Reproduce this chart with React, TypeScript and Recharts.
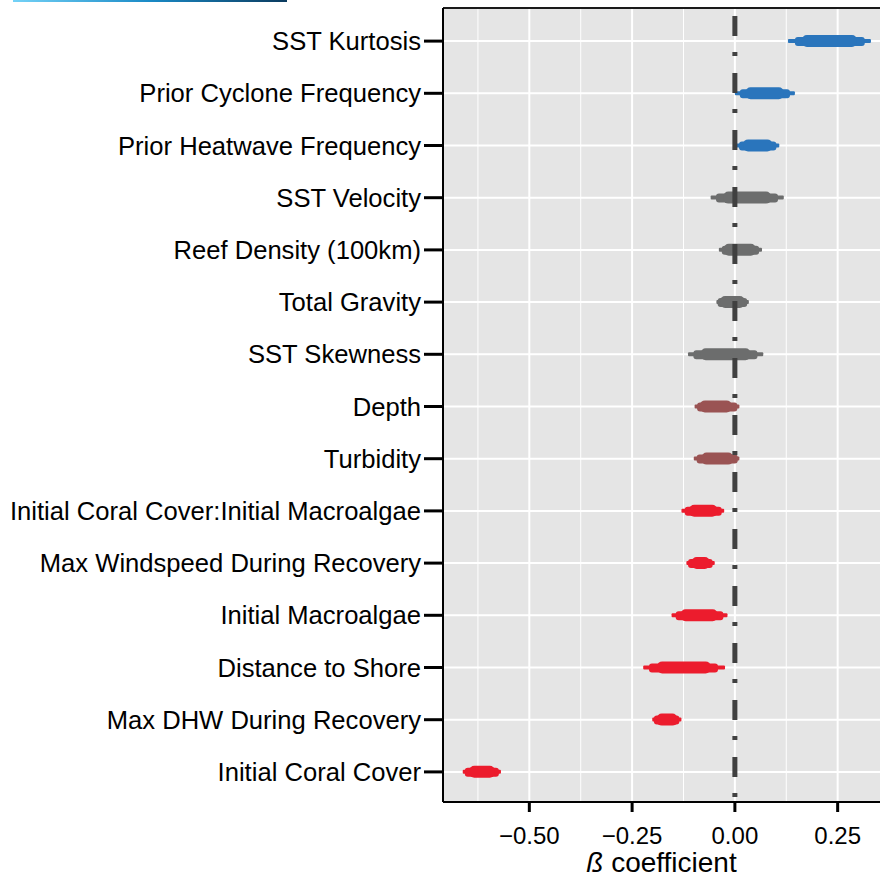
import { ComposedChart, Bar, Cell, XAxis, YAxis, CartesianGrid, ReferenceLine, Label } from 'recharts';

const categories = [
  'SST Kurtosis',
  'Prior Cyclone Frequency',
  'Prior Heatwave Frequency',
  'SST Velocity',
  'Reef Density (100km)',
  'Total Gravity',
  'SST Skewness',
  'Depth',
  'Turbidity',
  'Initial Coral Cover:Initial Macroalgae',
  'Max Windspeed During Recovery',
  'Initial Macroalgae',
  'Distance to Shore',
  'Max DHW During Recovery',
  'Initial Coral Cover',
];

// outer (thin) interval
const thinLow = [0.129, 0.0, 0.004, -0.059, -0.039, -0.045, -0.114, -0.098, -0.1, -0.13, -0.118, -0.154, -0.223, -0.201, -0.662];
const thinHigh = [0.331, 0.146, 0.108, 0.119, 0.066, 0.034, 0.069, 0.011, 0.011, -0.026, -0.049, -0.018, -0.024, -0.13, -0.569];
// middle interval
const midLow = [0.146, 0.012, 0.01, -0.046, -0.032, -0.042, -0.101, -0.092, -0.093, -0.122, -0.114, -0.144, -0.209, -0.197, -0.657];
const midHigh = [0.316, 0.134, 0.101, 0.105, 0.059, 0.03, 0.055, 0.006, 0.007, -0.032, -0.054, -0.028, -0.041, -0.135, -0.574];
// inner (thick) interval
const thickLow = [0.163, 0.026, 0.02, -0.028, -0.027, -0.036, -0.083, -0.085, -0.081, -0.111, -0.105, -0.132, -0.189, -0.19, -0.646];
const thickHigh = [0.297, 0.119, 0.091, 0.088, 0.051, 0.024, 0.038, -0.008, -0.004, -0.043, -0.061, -0.042, -0.059, -0.14, -0.584];

const groups = ['pos', 'pos', 'pos', 'ns', 'ns', 'ns', 'ns', 'weak', 'weak', 'neg', 'neg', 'neg', 'neg', 'neg', 'neg'];
const groupColors: Record<string, string> = { pos: '#2a75bc', ns: '#6c6d6d', weak: '#9a5353', neg: '#ec1c2d' };

const majorTicks = [-0.5, -0.25, 0, 0.25];
const minorTicks = [-0.625, -0.375, -0.125, 0.125];

const data = categories.map((name, i) => ({
  name,
  thin: [thinLow[i], thinHigh[i]],
  mid: [midLow[i], midHigh[i]],
  thick: [thickLow[i], thickHigh[i]],
  color: groupColors[groups[i]],
}));

const fmt = (v: number) => (v < 0 ? '\u2212' + Math.abs(v).toFixed(2) : v.toFixed(2));

const renderTitle = (props: any) => {
  const { x, y, width } = props.viewBox;
  return (
    <text x={x + width / 2} y={y + 70} textAnchor="middle" fontSize={28} fill="#000">
      <tspan fontStyle="italic">ß</tspan> coefficient
    </text>
  );
};

const yPad = { top: 7, bottom: 4 };

export default function App() {
  return (
    <div style={{ position: 'absolute', left: 0, top: 0, width: 880, height: 877, background: '#fff', fontFamily: '"Liberation Sans", Arial, sans-serif' }}>
      <div style={{ position: 'absolute', left: 13, top: 0, width: 274, height: 2, background: 'linear-gradient(to right, #74d2f7, #1a8ac6, #0b3a5e)' }} />
      <ComposedChart width={880} height={877} data={data} layout="vertical"
        margin={{ top: 8, right: 0, bottom: 0, left: 0 }}>
        <CartesianGrid fill="#e5e5e5" stroke="#fff" strokeWidth={1} horizontal={false}
          verticalValues={minorTicks} xAxisId="x" yAxisId="thin" />
        <CartesianGrid stroke="#fff" strokeWidth={2} verticalValues={majorTicks} xAxisId="x" yAxisId="thin" />
        <XAxis xAxisId="x" type="number" domain={[-0.71, 0.353]} ticks={majorTicks} tickFormatter={fmt}
          allowDataOverflow height={75} tickSize={10} tickMargin={15}
          tick={{ fill: '#000', fontSize: 24 }}
          axisLine={{ stroke: '#000', strokeWidth: 2 }} tickLine={{ stroke: '#000', strokeWidth: 3 }}>
          <Label content={renderTitle} />
        </XAxis>
        <YAxis yAxisId="thin" type="category" dataKey="name" width={443} padding={yPad}
          tickSize={19} tickMargin={3} tick={{ fill: '#000', fontSize: 25.6 }}
          axisLine={{ stroke: '#000', strokeWidth: 2 }} tickLine={{ stroke: '#000', strokeWidth: 3 }} />
        <YAxis yAxisId="mid" type="category" dataKey="name" hide width={0} padding={yPad} />
        <YAxis yAxisId="thick" type="category" dataKey="name" hide width={0} padding={yPad} />
        <YAxis yAxisId="ref" type="number" domain={[0, 1]} allowDataOverflow hide width={0} />
        <Bar xAxisId="x" yAxisId="thin" dataKey="thin" barSize={4} radius={1} isAnimationActive={false}>
          {data.map((d) => <Cell key={d.name} fill={d.color} />)}
        </Bar>
        <Bar xAxisId="x" yAxisId="mid" dataKey="mid" barSize={9} radius={3} isAnimationActive={false}>
          {data.map((d) => <Cell key={d.name} fill={d.color} />)}
        </Bar>
        <Bar xAxisId="x" yAxisId="thick" dataKey="thick" barSize={12} radius={5} isAnimationActive={false}>
          {data.map((d) => <Cell key={d.name} fill={d.color} />)}
        </Bar>
        <ReferenceLine xAxisId="x" yAxisId="ref" x={0} stroke="#404040" strokeWidth={5}
          strokeDasharray="4 16 20 17" strokeDashoffset={52} />
        <ReferenceLine xAxisId="x" yAxisId="ref" y={0} stroke="#1a1a1a" strokeWidth={2} />
      </ComposedChart>
    </div>
  );
}
